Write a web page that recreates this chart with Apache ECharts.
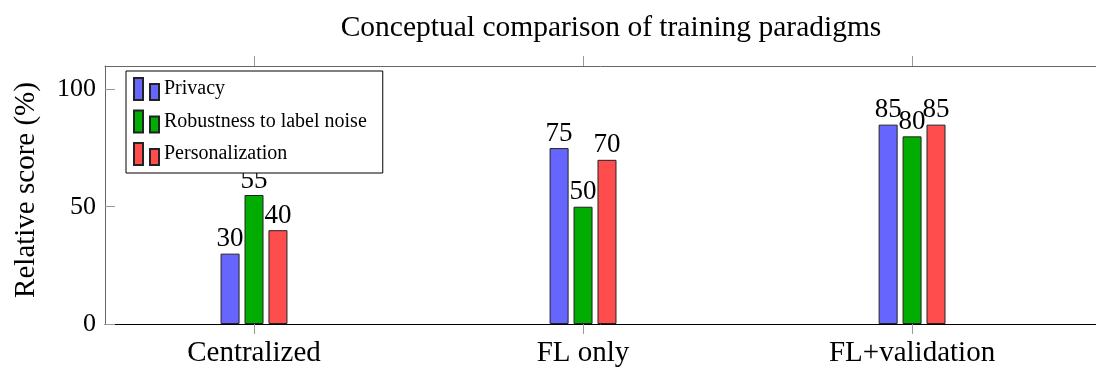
<!DOCTYPE html>
<html>
<head>
<meta charset="utf-8">
<script src="https://cdn.jsdelivr.net/npm/echarts@6/dist/echarts.min.js"></script>
<style>
  html, body { margin: 0; padding: 0; background: #fff; }
  #chart { width: 1096px; height: 367px; }
</style>
</head>
<body>
<div id="chart"></div>
<script>
// Paradigms compared and their scores (%)
const categories = ['Centralized', 'FL only', 'FL+validation'];
const privacy = [30, 75, 85];
const robustness = [55, 50, 80];
const personalization = [40, 70, 85];
const yTicks = [0, 50, 100];

const FONT = 'Liberation Serif';
const catIndex = categories.map((_, i) => i);
const X_MIN = -0.4529, X_MAX = 2.559;

function series(name, values, color) {
  return {
    name: name,
    type: 'bar',
    data: values.map((v, i) => [i, v]),
    barWidth: 19,
    barGap: '26%',
    itemStyle: { color: color, borderColor: '#222', borderWidth: 1 },
    label: {
      show: true, position: 'top', distance: 1,
      color: '#000', fontFamily: FONT, fontSize: 27
    }
  };
}

const chart = echarts.init(document.getElementById('chart'), null, { renderer: 'canvas' });
chart.setOption({
  animation: false,
  title: {
    text: 'Conceptual comparison of training paradigms',
    left: 606, top: 8, textAlign: 'center',
    textStyle: { fontFamily: FONT, fontSize: 29.5, fontWeight: 'normal', color: '#000' }
  },
  grid: { left: 105, right: 0, top: 66, bottom: 43, outerBoundsMode: 'none' },
  legend: {
    orient: 'vertical',
    left: 126, top: 71,
    padding: [6, 16, 7, 7],
    backgroundColor: '#fff',
    borderColor: '#000', borderWidth: 1,
    itemWidth: 25, itemHeight: 22, itemGap: 8.5,
    icon: 'path://M0,0h9v22h-9z M16,6h9v16h-9z',
    textStyle: { fontFamily: FONT, fontSize: 20, color: '#000' }
  },
  xAxis: [{
    type: 'value',
    min: X_MIN, max: X_MAX,
    splitLine: { show: false },
    axisLine: { onZero: false, lineStyle: { color: '#000', width: 1 } },
    axisTick: { show: true, customValues: catIndex, length: 10, lineStyle: { color: '#999' } },
    axisLabel: {
      customValues: catIndex, margin: 15,
      formatter: v => categories[Math.round(v)] || '',
      fontFamily: FONT, fontSize: 29, color: '#000'
    }
  }, {
    type: 'value', position: 'top',
    min: X_MIN, max: X_MAX,
    splitLine: { show: false },
    axisLine: { show: true, onZero: false, lineStyle: { color: '#666' } },
    axisTick: { show: true, customValues: catIndex, length: 10, lineStyle: { color: '#999' } },
    axisLabel: { show: false }
  }],
  yAxis: [{
    type: 'value', min: 0, max: 110,
    name: 'Relative score (%)', nameLocation: 'middle', nameGap: 64,
    nameTextStyle: { fontFamily: FONT, fontSize: 29, color: '#000', padding: [0, 0, 0, 10] },
    splitLine: { show: false },
    axisLine: { show: true, onZero: false, lineStyle: { color: '#666' } },
    axisTick: { show: true, inside: true, customValues: yTicks, length: 10, lineStyle: { color: '#999' } },
    axisLabel: { customValues: yTicks, margin: 9, fontFamily: FONT, fontSize: 26, color: '#000' }
  }],
  series: [
    series('Privacy', privacy, '#6666ff'),
    series('Robustness to label noise', robustness, '#00ad00'),
    series('Personalization', personalization, '#ff4d4d')
  ]
});
</script>
</body>
</html>
